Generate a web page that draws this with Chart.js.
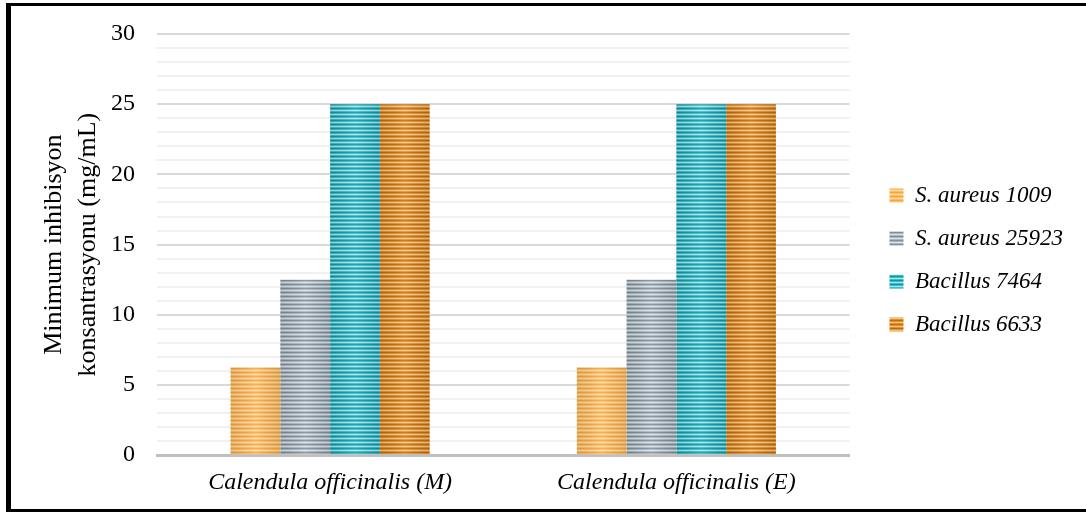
<!DOCTYPE html>
<html>
<head>
<meta charset="utf-8">
<script src="https://cdn.jsdelivr.net/npm/chart.js@4/dist/chart.umd.min.js"></script>
<style>
  html, body { margin: 0; padding: 0; background: #fff; }
  #wrap { position: relative; width: 1086px; height: 512px; overflow: hidden; }
  #c { position: absolute; left: 0; top: 0; }
  #frame {
    position: absolute; left: 6px; top: 3px; width: 1100px; height: 503px;
    border-left: 5px solid #000; border-top: 3px solid #000; border-bottom: 3px solid #000;
    pointer-events: none;
  }
</style>
</head>
<body>
<div id="wrap">
  <canvas id="c" width="1086" height="512"></canvas>
  <div id="frame"></div>
</div>
<script>
// Extracts and test strains
const categories = ['Calendula officinalis (M)', 'Calendula officinalis (E)'];
const seriesNames = ['S. aureus 1009', 'S. aureus 25923', 'Bacillus 7464', 'Bacillus 6633'];

// MIC values (mg/mL) per strain
const saureus1009 = [6.25, 6.25];
const saureus25923 = [12.5, 12.5];
const bacillus7464 = [25, 25];
const bacillus6633 = [25, 25];

// Labelled y ticks
const yTicks = [0, 5, 10, 15, 20, 25, 30];

const canvas = document.getElementById('c');
const ctx = canvas.getContext('2d');

// Horizontal stripe fill: dark / mid / light / mid rows
function stripes(dark, mid, light) {
  const t = document.createElement('canvas');
  t.width = 4; t.height = 4;
  const g = t.getContext('2d');
  g.fillStyle = dark;  g.fillRect(0, 0, 4, 1);
  g.fillStyle = mid;   g.fillRect(0, 1, 4, 1);
  g.fillStyle = light; g.fillRect(0, 2, 4, 1);
  g.fillStyle = mid;   g.fillRect(0, 3, 4, 1);
  return ctx.createPattern(t, 'repeat');
}

const fills = [
  stripes('#F9A53C', '#FDBD66', '#FFDDA2'),
  stripes('#7E8E9A', '#AAB7C0', '#DCE3E8'),
  stripes('#0C96A6', '#3CBCC9', '#A4E8EE'),
  stripes('#C26A08', '#E09232', '#F8C47C')
];
const seriesValues = [saureus1009, saureus25923, bacillus7464, bacillus6633];

// Soft cylinder shading across each bar
const barShade = {
  id: 'barShade',
  afterDatasetsDraw(chart) {
    const c = chart.ctx;
    chart.data.datasets.forEach((ds, i) => {
      chart.getDatasetMeta(i).data.forEach(bar => {
        const p = bar.getProps(['x', 'y', 'base', 'width'], true);
        const l = p.x - p.width / 2, r = p.x + p.width / 2;
        const g = c.createLinearGradient(l, 0, r, 0);
        g.addColorStop(0, 'rgba(0,0,0,0.10)');
        g.addColorStop(0.5, 'rgba(255,255,255,0.12)');
        g.addColorStop(1, 'rgba(0,0,0,0.10)');
        c.save();
        c.fillStyle = g;
        c.fillRect(l, p.y, p.width, p.base - p.y);
        c.restore();
      });
    });
  }
};

// Leave a gap between the plot and the legend column
const LEGEND_SHIFT_X = 20;
const LEGEND_SHIFT_Y = -3;
const legendShift = {
  id: 'legendShift',
  afterLayout(chart) {
    const lg = chart.legend;
    if (lg) {
      lg.left += LEGEND_SHIFT_X; lg.right += LEGEND_SHIFT_X;
      lg.top += LEGEND_SHIFT_Y; lg.bottom += LEGEND_SHIFT_Y;
    }
  }
};

const serif = "'Liberation Serif', 'Times New Roman', serif";

new Chart(ctx, {
  type: 'bar',
  data: {
    labels: categories,
    datasets: seriesNames.map((name, i) => ({
      label: name,
      data: seriesValues[i],
      backgroundColor: fills[i],
      borderWidth: 0,
      barPercentage: 1.0,
      categoryPercentage: 0.575
    }))
  },
  options: {
    responsive: false,
    devicePixelRatio: 1,
    animation: false,
    layout: { padding: { left: 37, right: 33, top: 16, bottom: 2 } },
    plugins: {
      legend: {
        position: 'right',
        labels: {
          boxWidth: 14,
          boxHeight: 14,
          padding: 20,
          color: '#000',
          font: { family: serif, size: 23, style: 'italic' }
        }
      },
      tooltip: { enabled: false }
    },
    scales: {
      x: {
        grid: { display: false, drawTicks: false },
        border: { display: true, color: '#BFBFBF', width: 3 },
        ticks: {
          color: '#000',
          padding: 13,
          font: { family: serif, size: 24, style: 'italic' }
        }
      },
      y: {
        min: yTicks[0],
        max: yTicks[yTicks.length - 1],
        border: { display: false },
        grid: {
          drawTicks: false,
          color: c => (c.tick && c.tick.value % 5 === 0) ? '#D9D9D9' : '#F0F0F0',
          lineWidth: 2
        },
        ticks: {
          stepSize: 1,
          autoSkip: false,
          padding: 22,
          color: '#000',
          font: { family: serif, size: 24, lineHeight: 1.0 },
          callback: v => yTicks.includes(v) ? String(v) : ''
        },
        title: {
          display: true,
          text: ['Minimum inhibisyon', 'konsantrasyonu (mg/mL)'],
          color: '#000',
          font: { family: serif, size: 26, lineHeight: 1.32 },
          padding: 0
        },
        afterFit(s) { s.width = 120; }
      }
    }
  },
  plugins: [barShade, legendShift]
});
</script>
</body>
</html>
